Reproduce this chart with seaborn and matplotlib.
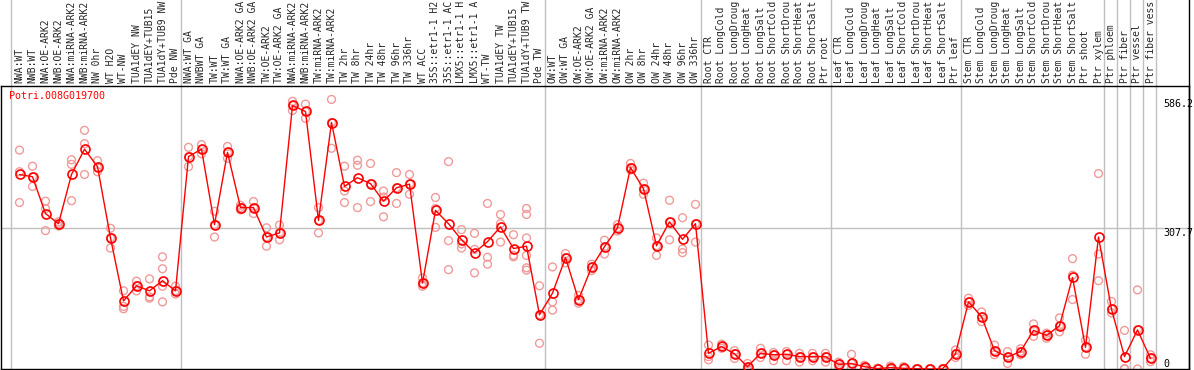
import pandas as pd
import matplotlib.pyplot as plt
import seaborn as sns

# sample names along the top (as far as they show in the header)
labels = [
    'NWA:WT', 'NWB:WT', 'NWA:OE-ARK2', 'NWB:OE-ARK2', 'NWA:miRNA-ARK2', 'NWB:miRNA-ARK2',
    'NW 0hr', 'WT H2O', 'WT-NW', 'TUA1dEY NW', 'TUA1dEY+TUB15', 'TUA1dY+TUB9 NW', 'Pde NW',
    'NWA:WT GA', 'NWBWT GA', 'TW:WT', 'TW:WT GA', 'NWA:OE-ARK2 GA', 'NWB:OE-ARK2 GA',
    'TW:OE-ARK2', 'TW:OE-ARK2 GA', 'NWA:miRNA-ARK2', 'NWB:miRNA-ARK2', 'TW:miRNA-ARK2',
    'TW:miRNA-ARK2', 'TW 2hr', 'TW 8hr', 'TW 24hr', 'TW 48hr', 'TW 96hr', 'TW 336hr', 'WT ACC',
    '35S::etr1-1 H2', '35S::etr1-1 AC', 'LMX5::etr1-1 H', 'LMX5::etr1-1 A', 'WT-TW',
    'TUA1dEY TW', 'TUA1dEY+TUB15', 'TUA1dY+TUB9 TW', 'Pde TW',
    'OW:WT', 'OW:WT GA', 'OW:OE-ARK2', 'OW:OE-ARK2 GA', 'OW:miRNA-ARK2', 'OW:miRNA-ARK2',
    'OW 2hr', 'OW 8hr', 'OW 24hr', 'OW 48hr', 'OW 96hr', 'OW 336hr',
    'Root CTR', 'Root LongCold', 'Root LongDroug', 'Root LongHeat', 'Root LongSalt',
    'Root ShortCold', 'Root ShortDrou', 'Root ShortHeat', 'Root ShortSalt', 'Ptr root',
    'Leaf CTR', 'Leaf LongCold', 'Leaf LongDroug', 'Leaf LongHeat', 'Leaf LongSalt',
    'Leaf ShortCold', 'Leaf ShortDrou', 'Leaf ShortHeat', 'Leaf ShortSalt', 'Ptr leaf',
    'Stem CTR', 'Stem LongCold', 'Stem LongDroug', 'Stem LongHeat', 'Stem LongSalt',
    'Stem ShortCold', 'Stem ShortDrou', 'Stem ShortHeat', 'Stem ShortSalt', 'Ptr shoot',
    'Ptr xylem', 'Ptr phloem', 'Ptr fiber', 'Ptr vessel', 'Ptr fiber vess',
]

# mean expression per sample
means = [
    423, 418, 338, 316, 423, 478, 440, 285, 148, 181, 170, 192, 170,
    462, 478, 314, 471, 351, 351, 287, 296, 573, 560, 323, 536, 397, 416, 403, 365, 394, 402,
    187, 345, 316, 281, 253, 277, 309, 262, 267, 118,
    165, 242, 151, 221, 266, 307, 438, 392, 268, 320, 282, 316,
    34, 49, 33, 5, 34, 31, 32, 27, 27, 27,
    10, 12, 5, 1, 3, 1.5, 0.5, 0, 0.3, 33,
    146, 114, 40, 26, 38, 84, 73, 94, 199, 47,
    287, 130, 27, 85, 23,
]

# replicates
rep1 = [
    476, 441, 365, 320, 455, 519, 453, 306, 170, 191, 196, 244, 180,
    482, 488, 343, 484, 356, 364, 307, 313, 582, 576, 351, 586.2, 441, 454, 447, 387, 427, 423,
    198, 373, 451, 303, 295, 360, 336, 292, 349, 181,
    222, 251, 160, 228, 280, 314, 447, 404, 285, 367, 329, 358,
    52, 54, 40, 12, 45, 36, 38, 34, 34, 34,
    15, 32, 8, 2, 6.5, 5, 1, 0.5, 0.5, 41.5,
    154, 124, 52, 38, 44, 98, 78, 111, 240, 63,
    425, 147, 84, 172, 31,
]
rep2 = [
    429, 418, 349, 311, 445, 490, 438, 285, 136, 181, 157, 218, 170,
    462, 478, 314, 471, 351, 351, 287, 296, 573, 560, 323, 536, 387, 443, 403, 374, 394, 402,
    187, 349, 279, 272, 260, 243, 316, 247, 336, 118,
    146, 242, 151, 221, 266, 307, 438, 392, 268, 320, 261, 316,
    27, 49, 33, 5, 34, 31, 32, 27, 27, 27,
    10, 12, 5, 1, 3, 1.5, 0.5, 0, 0.3, 33,
    146, 113, 40, 26, 38, 84, 73, 94, 204, 47,
    250, 130, 1, 85, 23,
]
rep3 = [
    362, 397, 301, 316, 366, 423, 429, 263, 131, 170, 154, 180, 163,
    440, 468, 287, 458, 346, 338, 267, 281, 562, 545, 296, 480, 362, 351, 364, 331, 360, 380,
    180, 308, 216, 263, 209, 228, 276, 244, 285, 56,
    128, 231, 143, 214, 250, 300, 433, 380, 247, 281, 253, 276,
    20, 45, 23, 0, 25, 18, 18, 15, 18, 15,
    5, 2, 1, 0.5, 0, 0, 0, 0, 0, 25,
    138, 103, 31, 12, 31, 71, 67, 81, 151, 32,
    192, 122, 0, 0, 16,
]
extra_idx = [11, 39, 39, 39]
extra_val = [146, 247, 220, 215]

y_ticks = [586.2, 307.7, 0]
y_top = 615.4
group_lines = [-0.69, 12.41, 40.41, 52.41, 62.41, 72.41, 83.41, 84.41, 85.41, 86.41, 87.41]

n = len(labels)
pos = list(range(n))
reps = pd.DataFrame({
    'pos': pos * 3 + extra_idx,
    'value': rep1 + rep2 + rep3 + extra_val,
})
avg = pd.DataFrame({'pos': pos, 'value': means})

sns.set_theme(style='white')
plt.rcParams['font.family'] = ['DejaVu Sans Mono']

fig = plt.figure(figsize=(11.94, 3.70), dpi=100)
ax = fig.add_axes([0.5 / 1194, 1 / 370, 1188 / 1194, 283 / 370])

ax.axhline(y_ticks[1], color='#c0c0c0', lw=1, zorder=0)
for g in group_lines:
    ax.axvline(g, ymin=0, ymax=1.31, color='#c0c0c0', lw=1, clip_on=False, zorder=0)

sns.scatterplot(data=reps, x='pos', y='value', marker='o', s=32,
                fc='none', ec='#f09a9a', linewidth=1, ax=ax, zorder=2)
sns.lineplot(data=avg, x='pos', y='value', color='red', lw=1, marker='o',
             markersize=6.5, markerfacecolor='none', markeredgecolor='red',
             markeredgewidth=1.2, ax=ax, zorder=3)

ax.set_xlim(-19 / 13, 1169 / 13)
ax.set_ylim(0, y_top)

ax.xaxis.tick_top()
ax.set_xticks(pos)
ax.set_xticklabels(labels, rotation=90, fontsize=7.0)
ax.tick_params(axis='x', length=0, pad=2)
ax.set_yticks([])
ax.set_xlabel('')
ax.set_ylabel('')

for s in ax.spines.values():
    s.set_color('black')
    s.set_linewidth(1)
ax.axvline(1169 / 13, ymin=0, ymax=1.31, color='black', lw=1, clip_on=False)

for v, va in zip(y_ticks, ['top', 'top', 'bottom']):
    ax.text(88.0, v, f'{v:g}', fontsize=7.2, va=va, ha='left', color='black')

ax.text(-0.77, 604, 'Potri.008G019700', color='red', fontsize=7.2, va='top', ha='left')

fig.savefig('out.png', dpi=100)
